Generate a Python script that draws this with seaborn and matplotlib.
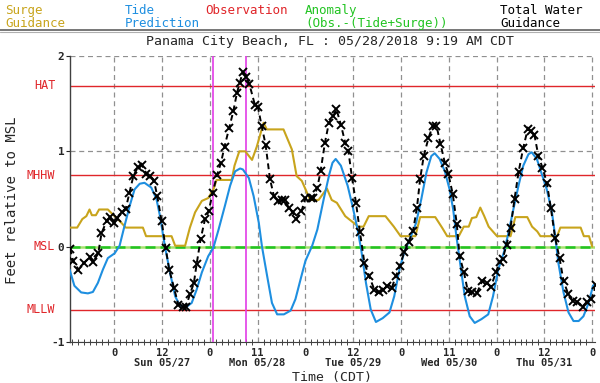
import numpy as np
import pandas as pd
import matplotlib
matplotlib.use("Agg")
import matplotlib.pyplot as plt
import seaborn as sns

# hours since Sun 05/27 00:00 CDT
tide_t = [-11.2, -10.0, -8.3, -6.6, -5.35, -4.1, -2.84, -1.6, 0.1, 1.35, 2.6, 3.9, 5.1, 6.4, 7.6, 9.3,
          10.6, 11.5, 12.7, 14.0, 15.3, 16.5, 18.2, 19.45, 20.7, 22.0, 23.6, 24.9, 26.2, 27.8, 29.1,
          30.35, 31.6, 32.3, 33.8, 35.0, 36.3, 37.1, 38.4, 39.6, 40.9, 42.6, 44.3, 45.5, 46.8, 48.0,
          49.7, 51.0, 52.6, 54.0, 54.8, 55.6, 56.9, 58.6, 59.8, 61.1, 62.0, 63.2, 64.4, 65.7, 67.4,
          69.1, 70.3, 71.6, 72.8, 74.5, 75.8, 77.1, 78.4, 79.6, 80.45, 81.7, 83.0, 84.2, 85.1, 85.9,
          86.7, 88.0, 89.25, 90.5, 92.2, 93.9, 95.1, 96.4, 97.9, 99.0, 100.2, 101.5, 102.7, 104.0,
          104.8, 106.1, 107.35, 108.6, 109.9, 110.7, 111.5, 112.8, 114.05, 115.3, 116.6, 117.8,
          119.1, 120.2, 121.0]
tide_v = [-0.24, -0.41, -0.48, -0.49, -0.475, -0.38, -0.24, -0.12, -0.07, 0.01, 0.22, 0.43, 0.60, 0.66,
          0.67, 0.62, 0.50, 0.32, 0.01, -0.27, -0.52, -0.62, -0.63, -0.59, -0.45, -0.27, -0.10, -0.01,
          0.18, 0.43, 0.64, 0.79, 0.82, 0.81, 0.72, 0.53, 0.25, 0.0, -0.31, -0.59, -0.71, -0.71, -0.67,
          -0.55, -0.34, -0.15, 0.01, 0.18, 0.50, 0.76, 0.88, 0.92, 0.85, 0.64, 0.43, 0.18, -0.03, -0.38,
          -0.66, -0.79, -0.75, -0.69, -0.52, -0.24, -0.06, 0.11, 0.25, 0.50, 0.78, 0.95, 0.98, 0.92,
          0.79, 0.60, 0.39, 0.11, -0.13, -0.52, -0.73, -0.80, -0.76, -0.71, -0.52, -0.24, -0.05, 0.15,
          0.39, 0.64, 0.85, 0.97, 0.99, 0.92, 0.76, 0.60, 0.36, 0.11, -0.17, -0.48, -0.69, -0.78, -0.78,
          -0.73, -0.59, -0.41, -0.38]

total_t = [-11.1, -10.3, -9.0, -7.6, -6.1, -5.3, -4.0, -3.2, -1.9, -1.0, 0.0, 0.8, 1.9, 2.9, 3.8, 4.8,
           6.0, 6.9, 8.1, 9.1, 10.0, 10.8, 11.9, 12.9, 13.8, 15.0, 16.1, 17.2, 18.0, 19.0, 20.0, 20.7,
           21.7, 22.8, 23.7, 24.7, 25.8, 26.8, 27.7, 28.9, 29.9, 30.8, 31.5, 32.3, 33.1, 33.9, 35.3,
           36.1, 37.0, 38.0, 39.1, 40.1, 41.2, 42.2, 42.8, 43.8, 44.8, 45.7, 47.0, 48.0, 49.3, 50.0,
           51.0, 51.8, 52.9, 53.9, 55.0, 55.8, 56.9, 58.0, 58.8, 59.7, 60.7, 61.7, 62.8, 64.0, 65.3,
           66.5, 67.6, 68.6, 69.7, 70.7, 71.7, 72.8, 73.9, 75.0, 76.0, 76.8, 77.7, 78.9, 80.0, 80.9,
           81.9, 83.0, 83.9, 85.0, 86.0, 86.7, 87.8, 88.8, 89.9, 91.0, 92.4, 93.5, 94.6, 95.8, 96.8,
           97.5, 98.5, 99.5, 100.5, 101.5, 102.7, 103.8, 104.6, 105.5, 106.5, 107.5, 108.6, 109.6,
           110.7, 111.8, 112.8, 114.0, 115.1, 116.3, 117.6, 118.6, 119.8, 121.0]
total_v = [-0.02, -0.15, -0.24, -0.17, -0.11, -0.16, -0.07, 0.14, 0.27, 0.31, 0.25, 0.30, 0.36, 0.40,
           0.56, 0.74, 0.84, 0.86, 0.76, 0.74, 0.69, 0.53, 0.27, -0.01, -0.24, -0.43, -0.61, -0.63,
           -0.63, -0.50, -0.38, -0.18, 0.08, 0.29, 0.37, 0.56, 0.75, 0.88, 1.05, 1.25, 1.42, 1.61, 1.72,
           1.83, 1.78, 1.71, 1.49, 1.46, 1.27, 1.07, 0.71, 0.53, 0.48, 0.49, 0.49, 0.41, 0.36, 0.29,
           0.37, 0.51, 0.51, 0.51, 0.62, 0.79, 1.09, 1.30, 1.37, 1.44, 1.28, 1.09, 1.00, 0.72, 0.46,
           0.15, -0.17, -0.31, -0.45, -0.48, -0.45, -0.41, -0.43, -0.31, -0.20, -0.06, 0.05, 0.16, 0.41,
           0.71, 0.95, 1.14, 1.27, 1.27, 1.08, 0.88, 0.76, 0.55, 0.24, -0.10, -0.27, -0.47, -0.48,
           -0.49, -0.36, -0.38, -0.42, -0.27, -0.16, -0.13, 0.02, 0.20, 0.50, 0.78, 1.04, 1.23, 1.21,
           1.17, 0.95, 0.83, 0.67, 0.41, 0.09, -0.12, -0.36, -0.50, -0.57, -0.58, -0.63, -0.58, -0.55,
           -0.40]

surge_t = [-11.2, -9.3, -8.0, -7.0, -6.2, -5.6, -4.6, -3.8, -1.6, -0.4, 0.9, 1.8, 2.9, 7.2, 8.0, 14.4,
           15.3, 17.8, 19.0, 20.3, 22.0, 23.6, 24.9, 25.7, 29.5, 30.2, 31.4, 32.9, 34.6, 35.8, 37.5,
           38.3, 42.5, 44.6, 45.8, 47.1, 49.2, 51.3, 53.4, 54.6, 55.9, 58.0, 61.3, 62.6, 63.9, 68.1,
           70.2, 71.9, 75.6, 76.8, 80.6, 82.3, 83.6, 86.5, 87.75, 89.0, 89.8, 90.9, 91.9, 92.9, 94.0,
           96.1, 99.5, 100.7, 103.7, 104.9, 106.2, 107.0, 111.2, 112.0, 117.1, 117.9, 119.2, 120.0]
surge_v = [0.20, 0.20, 0.29, 0.32, 0.39, 0.33, 0.33, 0.39, 0.39, 0.34, 0.29, 0.25, 0.20, 0.20, 0.11,
           0.11, 0.01, 0.01, 0.20, 0.36, 0.48, 0.51, 0.60, 0.70, 0.70, 0.85, 1.00, 1.00, 0.91, 1.05,
           1.30, 1.23, 1.23, 1.02, 0.74, 0.69, 0.49, 0.49, 0.61, 0.49, 0.46, 0.32, 0.21, 0.21, 0.32,
           0.32, 0.21, 0.11, 0.11, 0.31, 0.31, 0.20, 0.11, 0.11, 0.21, 0.21, 0.30, 0.31, 0.41, 0.32,
           0.21, 0.11, 0.11, 0.31, 0.31, 0.21, 0.16, 0.11, 0.11, 0.20, 0.20, 0.11, 0.11, 0.0]

anomaly_t = [-11.2, 121.0]
anomaly_v = [0.0, 0.0]

datum_names = ["HAT", "MHHW", "MSL", "MLLW"]
datum_values = [1.69, 0.75, 0.0, -0.66]

now_marks = [24.9, 33.0]

major_ticks = [0, 12, 24, 36, 48, 60, 72, 84, 96, 108, 120]
major_labels = ["0", "12\nSun 05/27", "0", "11\nMon 05/28", "0", "12\nTue 05/29",
                "0", "11\nWed 05/30", "0", "12\nThu 05/31", "0"]

GOLD = "#c8a41c"
BLUE = "#1e8fe0"
RED = "#e0262a"
GREEN = "#22c422"
MAGENTA = "#e23ce6"
MONO = "DejaVu Sans Mono"

sns.set_style("white")
plt.rcParams["font.family"] = [MONO]

fig = plt.figure(figsize=(6.0, 3.83), dpi=100)
ax = fig.add_axes([70 / 600, 1 - 342 / 383, 525 / 600, 286 / 383])

# grid
for y in [2, 1, -1]:
    ax.axhline(y, color="#909090", linestyle=(0, (4, 3)), linewidth=0.9, zorder=0)
for x in major_ticks:
    ax.axvline(x, color="#909090", linestyle=(0, (4, 3)), linewidth=0.9, zorder=0)

for name, val in zip(datum_names, datum_values):
    if name != "MSL":
        ax.axhline(val, color=RED, linewidth=1.0, zorder=1)

sns.lineplot(x=anomaly_t, y=anomaly_v, color="#a8e070", linewidth=1.8, ax=ax, zorder=2)
sns.lineplot(x=anomaly_t, y=anomaly_v, color=GREEN, linewidth=1.8, linestyle=(0, (4, 2)),
             ax=ax, zorder=2)

for x in now_marks:
    ax.axvline(x, color=MAGENTA, linewidth=1.2, zorder=3)

sns.lineplot(x=surge_t, y=surge_v, color=GOLD, linewidth=1.5, ax=ax, zorder=4)
sns.lineplot(x=tide_t, y=tide_v, color=BLUE, linewidth=1.5, ax=ax, zorder=5)
sns.lineplot(x=total_t, y=total_v, color="black", linewidth=1.4, linestyle=(0, (3, 2)),
             marker="x", markersize=5.5, markeredgewidth=1.4, markeredgecolor="black", ax=ax, zorder=6)

ax.set_xlim(-11.1, 120.7)
ax.set_ylim(-1, 2)

ax.set_xticks(major_ticks)
ax.set_xticklabels(major_labels, fontsize=7.5, fontweight="bold", linespacing=1.0)
ax.set_xticks(np.arange(-10.5, 121, 1.5), minor=True)
ax.tick_params(axis="x", which="major", direction="inout", length=6, width=0.8, pad=1)
ax.tick_params(axis="x", which="minor", direction="inout", length=4, width=0.6, bottom=True)

ax.set_yticks([-1, 0, 1, 2])
ax.set_yticklabels(["-1", "0", "1", "2"], fontsize=8, fontweight="bold")
ax.tick_params(axis="y", which="major", direction="out", length=3, width=0.8, pad=1, left=True)

for name, val in zip(datum_names, datum_values):
    ax.text(-0.028, val, name, transform=ax.get_yaxis_transform(), ha="right", va="center",
            color=RED, fontsize=8.5)

for side in ["top", "right"]:
    ax.spines[side].set_visible(False)
ax.spines["left"].set_color("#404040")
ax.spines["bottom"].set_color("#404040")
ax.spines["left"].set_linewidth(1.0)
ax.spines["bottom"].set_linewidth(0.8)

ax.set_xlabel("")
ax.set_ylabel("")
fig.text(332 / 600, 1 - 377 / 383, "Time (CDT)", ha="center", va="center", fontsize=9.5)
fig.text(12 / 600, 1 - 200 / 383, "Feet relative to MSL", rotation=90, ha="center",
         va="center", fontsize=10)

# header legend
header = [(5, "Surge\nGuidance", GOLD), (125, "Tide\nPrediction", BLUE),
          (205, "Observation", RED), (305, "Anomaly\n(Obs.-(Tide+Surge))", GREEN),
          (500, "Total Water\nGuidance", "black")]
for x, txt, col in header:
    fig.text(x / 600, 1 - 4 / 383, txt, ha="left", va="top", color=col, fontsize=9,
             linespacing=1.0)

fig.add_artist(plt.Line2D([0, 1], [1 - 30 / 383, 1 - 30 / 383], color="#606060", linewidth=1.2))
fig.add_artist(plt.Line2D([0, 1], [1 - 32 / 383, 1 - 32 / 383], color="#b0b0b0", linewidth=0.8))
fig.text(330 / 600, 1 - 41 / 383, "Panama City Beach, FL : 05/28/2018 9:19 AM CDT",
         ha="center", va="center", fontsize=9.5)

fig.savefig("out.png", dpi=100)
